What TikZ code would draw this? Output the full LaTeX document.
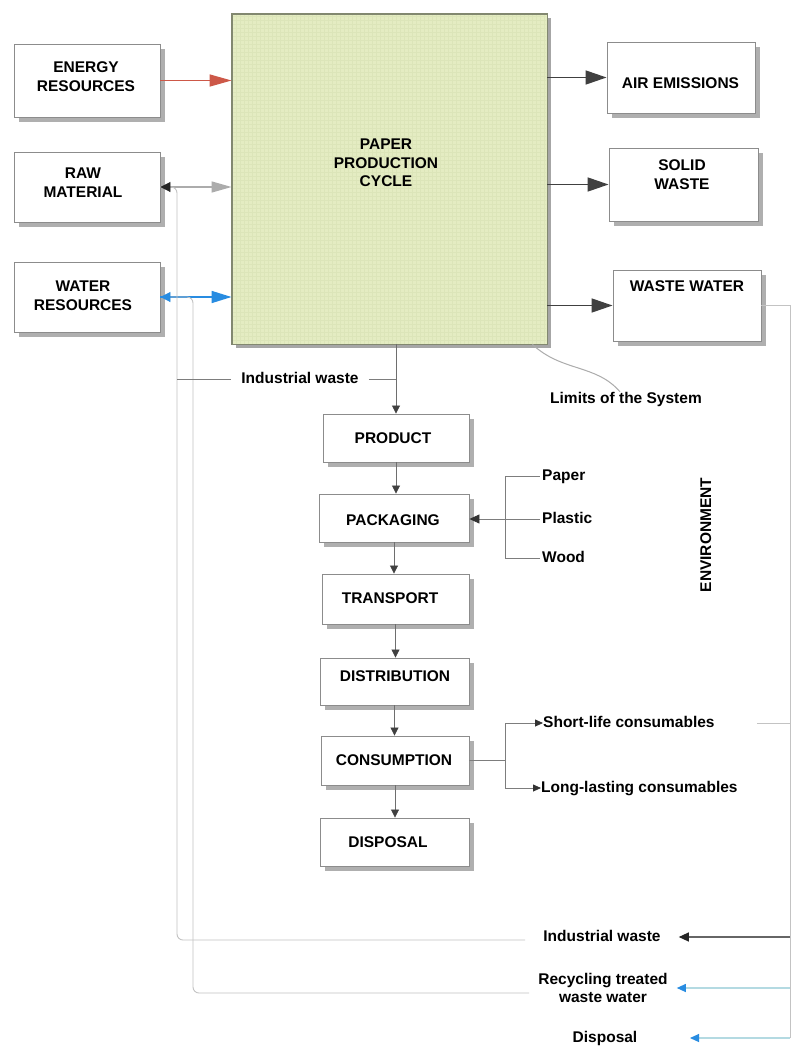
\documentclass[tikz,border=0pt]{standalone}
\usepackage{fontspec}
\setmainfont{Liberation Sans}
\usetikzlibrary{arrows.meta,shadows}

\definecolor{boxline}{RGB}{140,140,140}
\definecolor{shadowgray}{RGB}{175,175,175}
\definecolor{papergreen}{RGB}{228,236,194}
\definecolor{paperedge}{RGB}{130,136,112}
\definecolor{gridgreen}{RGB}{200,212,160}
\definecolor{energyred}{RGB}{205,88,72}
\definecolor{waterblue}{RGB}{40,140,225}
\definecolor{loopgray}{RGB}{195,195,195}
\definecolor{branchgray}{RGB}{125,125,125}
\definecolor{flowgray}{RGB}{110,110,110}
\definecolor{recline}{RGB}{180,218,226}

\begin{document}
\begin{tikzpicture}[x=1pt,y=-1pt,
  box/.style={draw=boxline, line width=0.9pt, fill=white, inner sep=0pt,
    general shadow={fill=shadowgray, shadow xshift=5pt, shadow yshift=-5pt}},
  txt/.style={font=\bfseries\fontsize{15.5}{18.7}\selectfont, align=center, inner sep=0pt},
  side/.style={txt, text height=11pt, text depth=3pt},
  flow/.style={draw=flowgray, line width=0.8pt, -{Triangle[length=8pt,width=8pt,color=black!75]}},
  outarrow/.style={draw=black!75, line width=1.6pt, -{Triangle[length=21pt,width=14pt]}},
  loopline/.style={draw=loopgray, line width=0.9pt},
  branch/.style={draw=branchgray, line width=0.8pt},
  recarrow/.style={draw=recline, line width=1.1pt, -{Triangle[length=9pt,width=8pt,color=waterblue]}},
]
\useasboundingbox (0,0) rectangle (792,1047);
\fill[white] (0,0) rectangle (792,1047);

% central process block with its faint grid
\node[draw=paperedge, line width=0.9pt, fill=papergreen, minimum width=315pt, minimum height=330pt,
  inner sep=0pt, general shadow={fill=black!35, shadow xshift=4pt, shadow yshift=-4pt}] (pcycle) at (389.5,179) {};
\begin{scope}
  \clip (233,15) rectangle (546,343);
  \draw[gridgreen, line width=0.3pt, opacity=0.25, step=4pt] (232,344) grid (547,14);
\end{scope}
\draw[paperedge, line width=0.9pt] (pcycle.north west) rectangle (pcycle.south east);
\node[txt] (pcyclet) at (386,163) {PAPER\\PRODUCTION\\CYCLE};

% inputs
\node[box, minimum width=146pt, minimum height=73pt] (energy) at (87,80.5) {};
\node[txt] (energyt) at (86,76.5) {ENERGY\\RESOURCES};
\node[box, minimum width=146pt, minimum height=70pt] (raw) at (87,187) {};
\node[txt] (rawt) at (83,183) {RAW\\MATERIAL};
\node[box, minimum width=146pt, minimum height=70pt] (water) at (87,297) {};
\node[txt] (watert) at (83,295.5) {WATER\\RESOURCES};

% outputs
\node[box, minimum width=148pt, minimum height=71pt] (air) at (681,77.5) {};
\node[txt] (airt) at (680.5,83) {AIR EMISSIONS};
\node[box, minimum width=149pt, minimum height=73pt] (solid) at (683.5,184.5) {};
\node[txt] (solidt) at (682,175) {SOLID\\WASTE};
\node[box, minimum width=148pt, minimum height=71pt] (wastewater) at (687,305.5) {};
\node[txt] (wastewatert) at (687,286) {WASTE WATER};

% life-cycle chain
\node[box, minimum width=146pt, minimum height=48pt] (product) at (396,438) {};
\node[txt] (productt) at (393,438) {PRODUCT};
\node[box, minimum width=150pt, minimum height=48pt] (packaging) at (394,518) {};
\node[txt] (packagingt) at (393,520) {PACKAGING};
\node[box, minimum width=147pt, minimum height=50pt] (transport) at (395.5,599) {};
\node[txt] (transportt) at (390,598) {TRANSPORT};
\node[box, minimum width=149pt, minimum height=47pt] (distribution) at (394.5,681.5) {};
\node[txt] (distributiont) at (395,676) {DISTRIBUTION};
\node[box, minimum width=148pt, minimum height=49pt] (consumption) at (395,760.5) {};
\node[txt] (consumptiont) at (394,760) {CONSUMPTION};
\node[box, minimum width=149pt, minimum height=48pt] (disposal) at (394.5,842) {};
\node[txt] (disposalt) at (388,842) {DISPOSAL};

% labels
\node[side] (limits) at (626,399) {Limits of the System};
\node[side, inner xsep=10pt] (indwa) at (300,379) {Industrial waste};
\node[side, anchor=west, inner xsep=2pt] (paperl) at (540,476) {Paper};
\node[side, anchor=west, inner xsep=2pt] (plasticl) at (540,519) {Plastic};
\node[side, anchor=west, inner xsep=2pt] (woodl) at (540,558) {Wood};
\node[side, anchor=west] (shortl) at (543,723) {Short-life consumables};
\node[side, anchor=west] (longl) at (541,788) {Long-lasting consumables};
\node[side, rotate=90] (envt) at (707,535) {ENVIRONMENT};
\node[side, inner xsep=18pt] (indwb) at (602,937) {Industrial waste};
\node[txt, inner xsep=9pt] (recy) at (603,988) {Recycling treated\\waste water};
\node[side] (displ) at (605,1038) {Disposal};

% resource arrows into the process
\draw[draw=energyred, line width=1.6pt, -{Triangle[length=22pt,width=12pt]}] (energy.east) -- (energy.east -| pcycle.west);
\draw[draw=gray!65, line width=1.3pt, -{Triangle[length=20pt,width=11pt]}] (raw.east) -- (raw.east -| pcycle.west);
\draw[draw=waterblue, line width=1.6pt, -{Triangle[length=20pt,width=12pt]}] (water.east) -- (water.east -| pcycle.west);

% emissions out of the process
\draw[outarrow] (air.west -| pcycle.east) -- (air.west);
\draw[outarrow] (solid.west -| pcycle.east) -- (solid.west);
\draw[outarrow] (wastewater.west -| pcycle.east) -- (wastewater.west);

% system limit pointer
\draw[draw=gray!65, line width=1pt] ([xshift=-15pt]pcycle.south east)
  .. controls (562,372) and (596,364) .. ([xshift=-6pt]limits.north);

% return loops on the left
\coordinate (iwcorner) at (177,940);
\coordinate (rccorner) at (193,993);
\draw[loopline, rounded corners=6pt, -{Triangle[length=10pt,width=10pt,color=black!85]}]
  (iwcorner -| indwb.west) -- (iwcorner) -- (iwcorner |- raw.east) -- (raw.east);
\draw[loopline, rounded corners=6pt, -{Triangle[length=10pt,width=10pt,color=waterblue]}]
  (rccorner -| recy.west) -- (rccorner) -- (rccorner |- water.east) -- (water.east);

% industrial waste leaving the process
\draw[branch] (iwcorner |- indwa) -- (indwa.west);
\draw[branch] (indwa.east) -- (product.north |- indwa);

% chain arrows
\draw[flow] (product.north |- pcycle.south) -- (product.north);
\draw[flow] (product.south) -- (product.south |- packaging.north);
\draw[flow] (packaging.south) -- (packaging.south |- transport.north);
\draw[flow] (transport.south) -- (transport.south |- distribution.north);
\draw[flow] (distribution.south) -- (distribution.south |- consumption.north);
\draw[flow] (consumption.south) -- (consumption.south |- disposal.north);

% packaging materials
\coordinate (pkj) at (505,519);
\draw[branch] (pkj |- paperl.west) -- (pkj |- woodl.west);
\draw[branch] (pkj |- paperl.west) -- (paperl.west);
\draw[branch] (pkj |- woodl.west) -- (woodl.west);
\draw[branch, -{Triangle[length=10pt,width=9pt,color=black!80]}] (plasticl.west) -- (plasticl.west -| packaging.east);

% consumables
\coordinate (csj) at (505,760);
\draw[branch] (consumption.east) -- (consumption.east -| csj);
\draw[branch] (csj |- shortl.west) -- (csj |- longl.west);
\draw[branch, -{Triangle[length=8pt,width=7pt,color=black!80]}] (csj |- shortl.west) -- (shortl.west);
\draw[branch, -{Triangle[length=8pt,width=7pt,color=black!80]}] (csj |- longl.west) -- (longl.west);

% return line on the right
\coordinate (rline) at (790,0);
\coordinate (dispend) at (690,1038);
\draw[loopline] (wastewater.east) -- (wastewater.east -| rline) -- (rline |- dispend);
\draw[loopline] ([xshift=42pt]shortl.east) -- (shortl.east -| rline);
\draw[draw=black!60, line width=1.1pt, -{Triangle[length=10pt,width=9pt,color=black!85]}] (rline |- indwb) -- (indwb.east);
\draw[recarrow] (rline |- recy) -- (recy.east);
\draw[recarrow] (rline |- dispend) -- (dispend);
\end{tikzpicture}
\end{document}
